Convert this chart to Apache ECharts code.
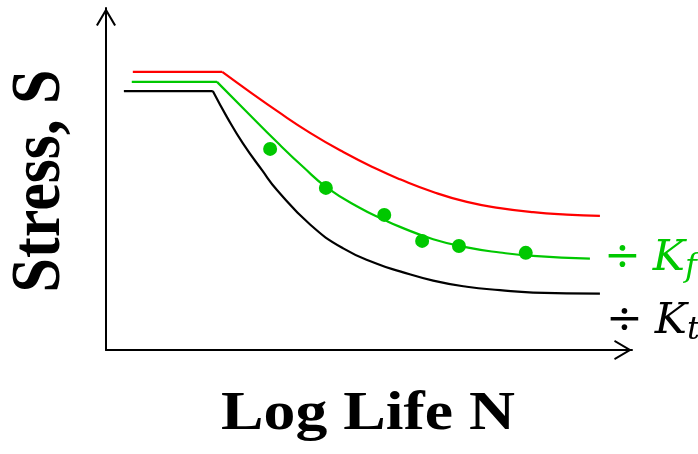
<!DOCTYPE html>
<html>
<head>
<meta charset="utf-8">
<script src="https://cdn.jsdelivr.net/npm/echarts@6/dist/echarts.min.js"></script>
<style>
  html, body { margin: 0; padding: 0; background: #fff; }
  #chart { width: 698px; height: 454px; }
</style>
</head>
<body>
<div id="chart"></div>
<script>
// S-N curves: [log life, stress] in arbitrary axis units (0-100).
// Smooth (unnotched) specimen curve: endurance plateau, then the sloped part.
const smoothPlateau = [[5.1, 81.3], [22.1, 81.3]];
const smoothCurve = [[22.1, 81.3], [27.4, 75.4], [32.5, 69.9], [38.8, 63.5], [45.1, 57.9],
  [51.5, 52.9], [55.9, 49.9], [62.2, 46.2], [68.6, 43.3], [74.9, 41.5], [81.2, 40.3],
  [87.6, 39.6], [93.9, 39.2]];

// Notched curve, stress reduced by the fatigue notch factor Kf.
const kfPlateau = [[4.9, 78.4], [21.1, 78.4]];
const kfCurve = [[21.1, 78.4], [26.4, 70.2], [32.5, 60.8], [37.5, 53.5], [42.0, 47.5],
  [48.3, 41.5], [52.7, 38.2], [55.9, 36.0], [62.2, 32.4], [68.6, 30.0], [74.9, 28.5],
  [81.2, 27.5], [92.0, 26.7]];

// Notched curve, stress reduced by the theoretical stress concentration factor Kt.
const ktPlateau = [[3.4, 75.7], [20.3, 75.7]];
const ktCurve = [[20.3, 75.7], [23.0, 68.1], [26.0, 60.5], [29.7, 52.5], [32.5, 46.8],
  [38.8, 36.7], [45.1, 29.7], [51.5, 25.2], [55.9, 23.0], [62.2, 20.3], [68.6, 18.5],
  [74.9, 17.5], [81.2, 16.8], [93.9, 16.5]];

// Notched specimen test results.
const notchedTests = [[31.2, 58.8], [41.8, 47.4], [52.9, 39.5], [60.1, 31.9], [67.1, 30.4], [79.8, 28.4]];

const xTitle = 'Log Life N';
const yTitle = 'Stress, S';

const RED = '#ff0000';
const GREEN = '#00c800';
const BLACK = '#000000';

// Open chevron arrow head, pointing up (ECharts turns it along the axis).
const chevron = 'path://M0,17 L10,0 L20,17 L18.2,17.9 L10,3.9 L1.8,17.9 Z';

function curve(data, color, smooth, extra) {
  return Object.assign({
    type: 'line',
    data: data,
    smooth: smooth,
    showSymbol: false,
    symbol: 'none',
    lineStyle: { color: color, width: 2.2 },
    itemStyle: { color: color },
    emphasis: { disabled: true },
    animation: false,
    z: 3
  }, extra || {});
}

function notchLabel(color, sub, distance, offset) {
  return {
    show: true,
    formatter: '{d|÷} {k|K}{s|' + sub + '}',
    color: color,
    distance: distance,
    offset: offset,
    fontFamily: 'DejaVu Serif',
    fontSize: 38,
    rich: {
      d: { fontFamily: 'DejaVu Serif', fontSize: 44, color: color },
      k: { fontFamily: 'DejaVu Serif', fontStyle: 'italic', fontSize: 43, color: color },
      s: { fontFamily: 'DejaVu Serif', fontStyle: 'italic', fontSize: 32, color: color, padding: [18, 0, 0, 0] }
    }
  };
}

const chart = echarts.init(document.getElementById('chart'), null, { renderer: 'canvas' });

const axisCommon = {
  type: 'value',
  min: 0,
  max: 100,
  axisTick: { show: false },
  axisLabel: { show: false },
  splitLine: { show: false },
  axisLine: {
    show: true,
    onZero: false,
    symbol: ['none', chevron],
    symbolSize: [20, 18],
    symbolOffset: [0, -9],
    lineStyle: { color: BLACK, width: 2 }
  }
};

chart.setOption({
  backgroundColor: '#ffffff',
  animation: false,
  grid: { left: 106, right: 66, top: 8, bottom: 104 },
  xAxis: Object.assign({}, axisCommon),
  yAxis: Object.assign({}, axisCommon),
  series: [
    curve(smoothPlateau, RED, false),
    curve(smoothCurve, RED, 0.5),
    curve(kfPlateau, GREEN, false),
    curve(kfCurve, GREEN, 0.5, { endLabel: notchLabel(GREEN, 'f', 14, [0, 0]) }),
    curve(ktPlateau, BLACK, false),
    curve(ktCurve, BLACK, 0.5, { endLabel: notchLabel(BLACK, 't', 6, [0, 28]) }),
    {
      type: 'scatter',
      data: notchedTests,
      symbol: 'circle',
      symbolSize: 14,
      itemStyle: { color: GREEN, opacity: 1 },
      emphasis: { disabled: true },
      z: 4
    }
  ],
  graphic: [
    {
      type: 'text',
      x: 368,
      y: 415,
      scaleX: 1.18,
      style: {
        text: xTitle,
        fontFamily: '"Liberation Serif", "Times New Roman", serif',
        fontWeight: 'bold',
        fontSize: 54,
        fill: BLACK,
        align: 'center',
        verticalAlign: 'middle'
      }
    },
    {
      type: 'text',
      x: 41,
      y: 181,
      rotation: Math.PI / 2,
      scaleY: 1.14,
      style: {
        text: yTitle,
        fontFamily: '"Liberation Serif", "Times New Roman", serif',
        fontWeight: 'bold',
        fontSize: 62,
        fill: BLACK,
        align: 'center',
        verticalAlign: 'middle'
      }
    }
  ]
});
</script>
</body>
</html>
